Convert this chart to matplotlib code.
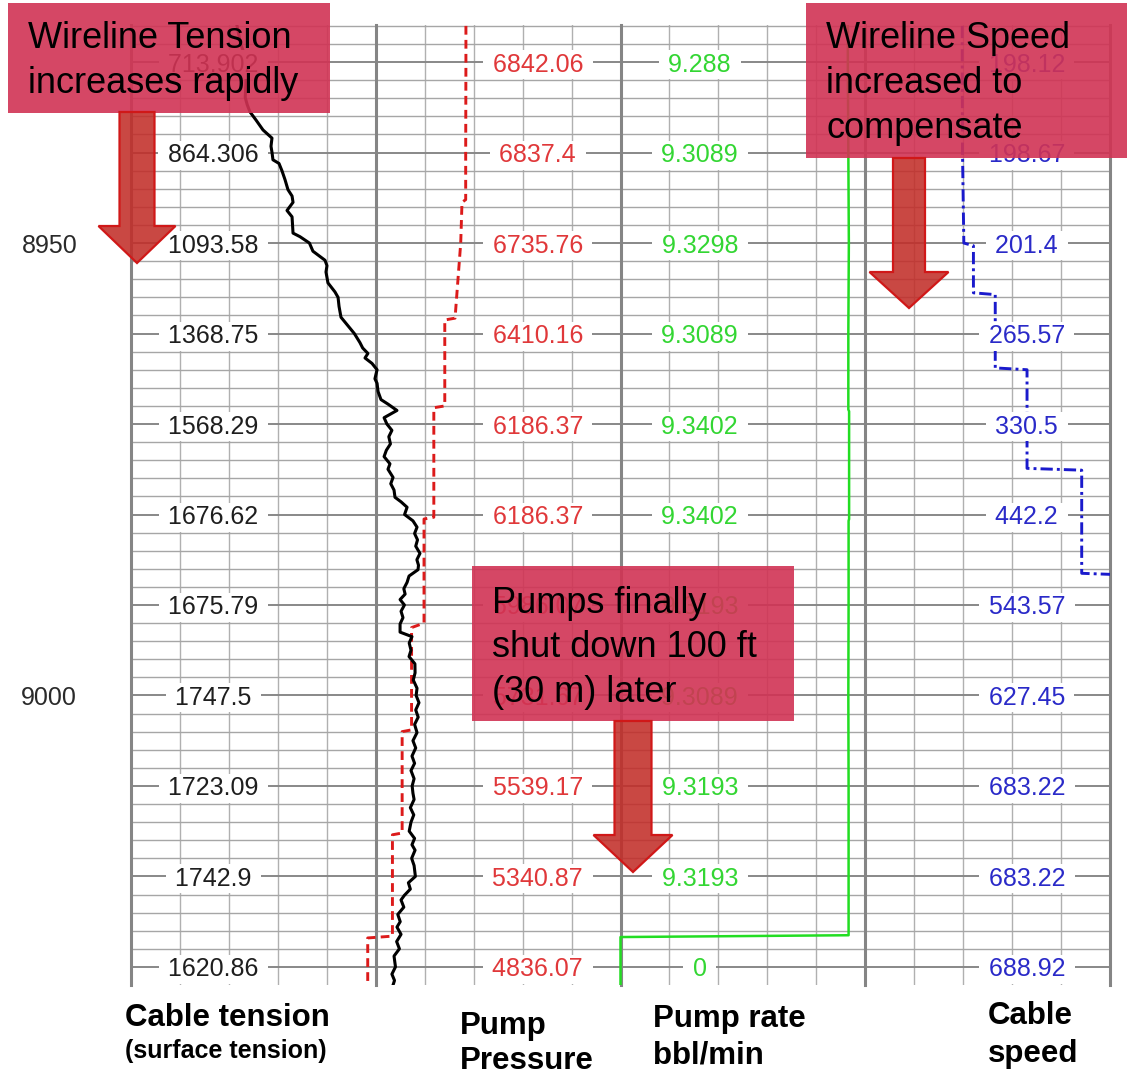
import numpy as np
import matplotlib.pyplot as plt
from matplotlib.patches import Rectangle, Polygon

plt.rcParams['font.family'] = ['Liberation Sans', 'DejaVu Sans']

# 10 ft depth marks (ft) and the depth numbers shown on the left
mark_depths = [8930, 8940, 8950, 8960, 8970, 8980, 8990, 9000, 9010, 9020, 9030]
depth_numbers = [8950, 9000]

# readouts printed at every mark, one list per track
tension_marks = [713.902, 864.306, 1093.58, 1368.75, 1568.29, 1676.62,
                 1675.79, 1747.5, 1723.09, 1742.9, 1620.86]
pressure_marks = [6842.06, 6837.4, 6735.76, 6410.16, 6186.37, 6186.37,
                  5986.07, 5731.67, 5539.17, 5340.87, 4836.07]
rate_marks = [9.288, 9.3089, 9.3298, 9.3089, 9.3402, 9.3402,
              9.3193, 9.3089, 9.3193, 9.3193, 0]
speed_marks = [198.12, 198.67, 201.4, 265.57, 330.5, 442.2,
               543.57, 627.45, 683.22, 683.22, 688.92]

# cable tension log (lbf)
tension_depth = [
    8926.0, 8928.0, 8930.0, 8932.0, 8933.9, 8934.7, 8935.5, 8936.4, 8937.5, 8938.4,
    8939.3, 8940.0, 8940.8, 8941.2, 8942.0, 8943.0, 8944.1, 8944.8, 8945.5, 8946.4,
    8947.1, 8948.0, 8948.9, 8949.3, 8950.0, 8950.9, 8951.9, 8952.5, 8953.2, 8954.4,
    8955.4, 8956.0, 8957.0, 8958.2, 8959.4, 8960.0, 8961.0, 8961.6, 8962.2, 8962.7,
    8963.3, 8964.0, 8965.0, 8965.5, 8966.4, 8967.3, 8967.8, 8968.5, 8969.3, 8970.0,
    8970.7, 8971.4, 8972.2, 8972.9, 8973.6, 8974.4, 8975.0, 8975.9, 8976.6, 8977.3,
    8978.1, 8978.6, 8979.2, 8980.0, 8980.7, 8981.4, 8982.1, 8982.8, 8983.5, 8984.3,
    8985.0, 8985.6, 8986.1, 8986.8, 8987.5, 8988.2, 8988.8, 8989.4, 8990.0, 8990.7,
    8991.4, 8992.1, 8993.0, 8993.5, 8994.2, 8995.0, 8995.7, 8996.5, 8997.5, 8998.3,
    8999.2, 9000.0, 9000.8, 9001.6, 9002.4, 9003.2, 9004.1, 9005.0, 9005.8, 9006.7,
    9007.5, 9008.3, 9009.2, 9010.0, 9010.8, 9011.5, 9012.4, 9013.2, 9014.0, 9015.0,
    9015.8, 9016.5, 9017.1, 9018.0, 9018.8, 9020.0, 9020.7, 9021.4, 9022.1, 9022.6,
    9023.4, 9024.2, 9025.0, 9025.6, 9026.4, 9027.2, 9028.0, 9028.8, 9030.0, 9030.8,
    9031.5, 9032.0]
tension = [
    650, 672, 713.902, 705, 700, 712, 729, 766, 809, 864,
    858, 864.306, 870, 907, 925, 944, 962, 987, 993, 956,
    987, 990, 993, 1036, 1093.58, 1115, 1189, 1201, 1195, 1207,
    1250, 1269, 1275, 1287, 1342, 1368.75, 1403, 1420, 1452, 1434,
    1477, 1508, 1495, 1508, 1514, 1532, 1575, 1630, 1551, 1568.29,
    1599, 1580, 1590, 1565, 1551, 1587, 1575, 1606, 1592, 1612,
    1618, 1655, 1692, 1676.62, 1728, 1753, 1738, 1756, 1745, 1771,
    1752, 1762, 1759, 1704, 1692, 1672, 1680, 1649, 1675.79, 1655,
    1667, 1649, 1649, 1722, 1705, 1716, 1704, 1740, 1741, 1730,
    1753, 1747.5, 1765, 1745, 1760, 1738, 1753, 1728, 1745, 1722,
    1738, 1716, 1735, 1723.09, 1728, 1735, 1712, 1733, 1716, 1705,
    1738, 1722, 1741, 1720, 1735, 1742.9, 1700, 1712, 1675, 1655,
    1672, 1635, 1650, 1630, 1655, 1628, 1645, 1612, 1620.86, 1599,
    1615, 1606]

# pump pressure (psi), stepped
pressure_depth = [8926.0, 8930.0, 8940.0, 8945.2, 8945.5, 8950.0, 8958.3, 8958.5,
                  8968.0, 8968.2, 8980.3, 8980.5, 8992.0, 8992.5, 9003.8, 9004.0,
                  9015.2, 9015.4, 9026.6, 9026.8, 9032.0]
pressure = [6842.06, 6842.06, 6837.4, 6837.4, 6762, 6735.76, 6620, 6410.16,
            6410.16, 6186.37, 6186.37, 5986.07, 5986.07, 5731.67, 5731.67, 5539.17,
            5539.17, 5340.87, 5340.87, 4836.07, 4836.07]

# pump rate (bbl/min)
rate_depth = [8926.0, 8930.0, 8940.0, 8950.0, 8960.0, 8968.4, 8968.6, 8970.0,
              8980.0, 8980.5, 8980.7, 8990.0, 9000.0, 9010.0, 9020.0, 9026.5,
              9026.7, 9032.0]
rate = [9.288, 9.288, 9.3089, 9.3298, 9.3089, 9.3089, 9.3402, 9.3402,
        9.3402, 9.3402, 9.3193, 9.3193, 9.3089, 9.3193, 9.3193, 9.3193,
        0, 0]

# cable speed (ft/h)
speed_depth = [8926.0, 8930.0, 8940.0, 8950.0, 8950.3, 8955.5, 8955.7, 8960.0,
               8963.8, 8964.0, 8970.0, 8974.9, 8975.1, 8980.0, 8986.5, 8986.7,
               8990.0, 9000.0, 9010.0, 9020.0, 9030.0, 9032.0]
speed = [198.12, 198.12, 198.67, 201.4, 221, 221, 265.57, 265.57,
         265.57, 330.5, 330.5, 330.5, 442.2, 442.2, 442.2, 543.57,
         543.57, 627.45, 683.22, 683.22, 688.92, 688.92]

W, H = 1127, 1074


def fx(px):
    return px / W


def fy(py):
    return 1 - py / H


fig = plt.figure(figsize=(W / 100, H / 100), dpi=100)
ax = fig.add_axes([fx(131), fy(985), fx(1110) - fx(131), fy(25) - fy(985)])
ax.set_xlim(0, 20)
ax.set_ylim(9032.0, 8925.9)
ax.axis('off')

# log grid: 20 columns, 4 tracks of 5; 2 ft lines, darker every 10 ft
for c in range(21):
    if c % 5 == 0:
        ax.axvline(c, color='#858585', lw=2.2, clip_on=False, zorder=1)
    else:
        ax.axvline(c, color='#b0b0b0', lw=1.0, zorder=0.5)
for d in range(8926, 9031, 2):
    if d % 10 == 0:
        ax.axhline(d, color='#888888', lw=1.4, zorder=0.6)
    else:
        ax.axhline(d, color='#a6a6a6', lw=1.0, zorder=0.5)


def overlay(lo, hi):
    a = ax.twiny()
    a.set_xlim(lo, hi)
    a.axis('off')
    return a


ax_p = overlay(0, 20000)      # 0-10000 psi over tracks 1-2
ax_t = overlay(0, 6000)       # 0-3000 lbf over tracks 1-2
ax_r = overlay(-20, 20)       # 0-10 bbl/min over track 3
ax_s = overlay(-1500, 500)    # 0-500 ft/h over track 4

ax_p.plot(pressure, pressure_depth, color='#dc1a1a', lw=2.1, ls=(0, (3.0, 1.8)))
ax_t.plot(tension, tension_depth, color='black', lw=2.2, solid_joinstyle='round')
ax_r.plot(rate, rate_depth, color='#22dd22', lw=1.8)
ax_s.plot(speed, speed_depth, color='#1a1acc', lw=2.1, ls=(0, (4.2, 1.4, 1.0, 1.4)))

# readouts on white patches, one column per track
label_cols = [(1.68, tension_marks, '#1e1e1e'),
              (8.31, pressure_marks, '#e0383a'),
              (11.62, rate_marks, '#33d633'),
              (18.3, speed_marks, '#2a2ac8')]
for xpos, vals, col in label_cols:
    for d, v in zip(mark_depths, vals):
        ax_s.text(xpos, d, f" {v:g} ", transform=ax.transData, ha='center',
                  va='center_baseline', fontsize=18, color=col, zorder=5,
                  bbox=dict(boxstyle='square,pad=0.1', fc='white', ec='none'))

for d in depth_numbers:
    ax.text(-1.67, d, str(d), ha='center', va='center_baseline', fontsize=18,
            color='#2a2a2a')

# track titles under the log
titles = [(125, 1026, 'Cable tension', 22.5),
          (125, 1058, '(surface tension)', 18),
          (460, 1034, 'Pump', 22.5),
          (460, 1069, 'Pressure', 22.5),
          (653, 1027, 'Pump rate', 22.5),
          (653, 1064, 'bbl/min', 22.5),
          (988, 1024, 'Cable', 22.5),
          (988, 1062, 'speed', 22.5)]
for x, y, s, size in titles:
    fig.text(fx(x), fy(y), s, fontsize=size, fontweight='bold', va='baseline')

# callout boxes
box_fc = (0.82, 0.2, 0.33, 0.9)
callouts = [((8, 3, 330, 113), 28, [(48, 'Wireline Tension'), (93, 'increases rapidly')]),
            ((806, 3, 1127, 158), 826, [(48, 'Wireline Speed'), (93, 'increased to'),
                                        (138, 'compensate')]),
            ((472, 566, 794, 721), 492, [(613, 'Pumps finally'), (657, 'shut down 100 ft'),
                                         (702, '(30 m) later')])]
for (x0, y0, x1, y1), tx, lines in callouts:
    fig.add_artist(Rectangle((fx(x0), fy(y1)), fx(x1) - fx(x0), fy(y0) - fy(y1),
                             transform=fig.transFigure, fc=box_fc, ec='none', zorder=10))
    for by, s in lines:
        fig.text(fx(tx), fy(by), s, fontsize=26, color='black', va='baseline', zorder=12)


def block_arrow(xc, y_top, y_head, y_tip, shaft_w, head_w):
    pts = [(xc - shaft_w / 2, y_top), (xc + shaft_w / 2, y_top),
           (xc + shaft_w / 2, y_head), (xc + head_w / 2, y_head),
           (xc, y_tip), (xc - head_w / 2, y_head), (xc - shaft_w / 2, y_head)]
    fig.add_artist(Polygon([(fx(x), fy(y)) for x, y in pts], closed=True,
                           transform=fig.transFigure, fc=(0.76, 0.18, 0.16, 0.88),
                           ec='#d01818', lw=1.6, zorder=11))


block_arrow(137, 112, 226, 263, 35, 77)
block_arrow(909, 158, 272, 308, 32, 79)
block_arrow(633, 721, 835, 872, 37, 79)

fig.savefig('out.png', dpi=100)
